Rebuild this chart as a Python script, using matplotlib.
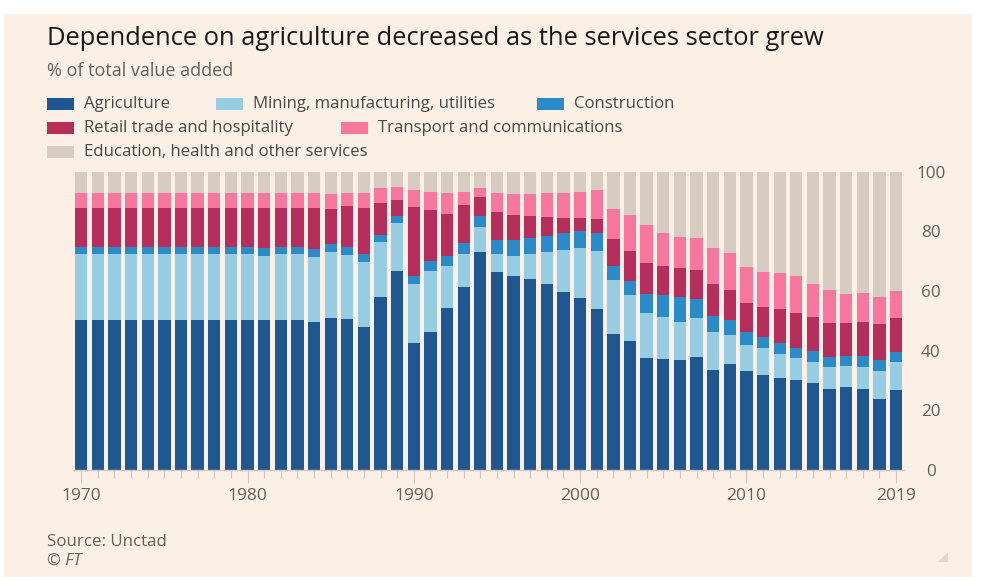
import numpy as np
import matplotlib
matplotlib.use("Agg")
import matplotlib.pyplot as plt
from matplotlib.patches import Rectangle, Polygon

# values (% of total value added)
years = list(range(1970, 2020))

agriculture = [50.3] * 11 + [50.2, 50.3, 50.3, 49.7, 50.8, 50.5, 48.0, 58.1, 66.7,
               42.5, 46.4, 54.2, 61.5, 73.0, 66.5, 65.0, 63.9, 62.2, 59.8,
               57.5, 54.0, 45.6, 43.2, 37.5, 37.2, 36.9, 38.0, 33.5, 35.5,
               33.2, 31.8, 30.7, 30.2, 29.3, 27.3, 27.7, 27.0, 23.7, 26.8]
mining = [22.0] * 11 + [21.7, 22.0, 22.0, 21.8, 22.3, 21.7, 21.8, 18.4, 16.0,
          19.7, 20.4, 14.1, 10.8, 8.3, 5.8, 6.8, 8.5, 10.8, 13.9,
          16.8, 19.4, 18.0, 15.5, 15.2, 14.0, 12.8, 12.8, 12.6, 9.8,
          8.7, 9.0, 8.3, 7.5, 6.9, 7.1, 7.2, 7.6, 9.6, 9.5]
construction = [2.5] * 11 + [2.6, 2.5, 2.5, 2.5, 2.7, 2.4, 2.6, 2.4, 2.5,
                2.8, 3.1, 3.6, 3.8, 3.7, 4.8, 5.3, 5.4, 5.4, 5.9,
                5.8, 6.2, 4.8, 4.8, 6.3, 7.5, 8.2, 6.4, 5.6, 5.0,
                4.2, 3.9, 3.6, 3.3, 3.7, 3.6, 3.4, 3.7, 3.6, 3.4]
retail = [13.1] * 11 + [13.4, 13.1, 13.1, 13.9, 11.8, 13.9, 15.3, 10.5, 5.2,
          23.1, 17.1, 13.8, 12.9, 6.6, 9.5, 8.5, 7.4, 6.5, 5.0,
          4.4, 4.5, 8.9, 10.0, 10.3, 9.8, 9.9, 9.8, 10.6, 10.0,
          10.0, 10.0, 11.3, 11.5, 11.5, 11.4, 10.9, 11.4, 11.9, 11.4]
transport = [4.8] * 11 + [4.8, 4.8, 4.8, 4.8, 5.0, 4.3, 5.1, 5.0, 4.6,
             5.8, 6.3, 7.1, 4.3, 2.9, 6.1, 7.0, 7.4, 7.8, 8.1,
             8.7, 9.6, 10.1, 12.0, 12.8, 10.8, 10.2, 10.7, 12.0, 12.3,
             12.1, 11.6, 12.0, 12.5, 10.9, 10.9, 9.8, 9.5, 9.3, 8.9]
other = [7.3] * 11 + [7.3, 7.3, 7.3, 7.3, 7.4, 7.2, 7.2, 5.6, 5.0,
         6.1, 6.7, 7.2, 6.7, 5.5, 7.3, 7.4, 7.4, 7.3, 7.3,
         6.8, 6.3, 12.6, 14.5, 17.9, 20.7, 22.0, 22.3, 25.7, 27.4,
         31.8, 33.7, 34.1, 35.0, 37.7, 39.7, 41.0, 40.8, 41.9, 40.0]

series_names = ["Agriculture", "Mining, manufacturing, utilities", "Construction",
                "Retail trade and hospitality", "Transport and communications",
                "Education, health and other services"]
colors = ["#1f5791", "#96cde3", "#2a8bc8", "#b52e5c", "#f7779e", "#d8cbc2"]

xtick_years = [1970, 1980, 1990, 2000, 2010, 2019]
yticks = [0, 20, 40, 60, 80, 100]

BG = "#fcf0e6"
W, H = 984, 580
plt.rcParams["font.family"] = ["Open Sans", "DejaVu Sans"]


def fx(px):
    return px / W


def fy(py):
    return 1 - py / H


fig = plt.figure(figsize=(9.84, 5.8), dpi=100, facecolor="white")
fig.patches.append(Rectangle((fx(4), fy(577)), fx(972 - 4), (577 - 14) / H,
                             transform=fig.transFigure, facecolor=BG,
                             edgecolor="none", zorder=-10))

ax = fig.add_axes([fx(72.9), fy(470), fx(904.4 - 72.9), (470 - 171.7) / H])
ax.set_facecolor(BG)

data = [agriculture, mining, construction, retail, transport, other]
bottom = np.zeros(len(years))
for vals, col, name in zip(data, colors, series_names):
    vals = np.array(vals)
    ax.bar(years, vals, bottom=bottom, width=0.74, color=col, label=name,
           linewidth=0)
    bottom += vals

ax.set_xlim(1969.5, 2019.5)
ax.set_ylim(0, 100)

for s in ["top", "left", "right"]:
    ax.spines[s].set_visible(False)
ax.spines["bottom"].set_color("#d3c8be")
ax.spines["bottom"].set_linewidth(1.0)

ax.set_xticks(xtick_years)
ax.set_xticklabels([str(y) for y in xtick_years])
ax.set_xticks(years, minor=True)
ax.tick_params(axis="x", which="major", length=9, width=0.8, color="#d3c8be",
               labelsize=12.5, labelcolor="#66605c", pad=4)
ax.tick_params(axis="x", which="minor", length=5.5, width=0.8, color="#d3c8be")

ax.yaxis.tick_right()
ax.set_yticks(yticks)
ax.tick_params(axis="y", length=0, labelsize=12.3, labelcolor="#66605c", pad=19)
for lab in ax.get_yticklabels():
    lab.set_horizontalalignment("center")

# title, subtitle
fig.text(fx(47), fy(45), "Dependence on agriculture decreased as the services sector grew",
         fontsize=18.4, color="#1a1817", va="baseline", ha="left")
fig.text(fx(47), fy(76), "% of total value added", fontsize=13,
         color="#66605c", va="baseline", ha="left")

# legend drawn by hand to match the layout
legend_pos = [(47, 104), (216, 104), (537, 104), (47, 128), (341, 128), (47, 152)]
for (lx, ly), col, name in zip(legend_pos, colors, series_names):
    fig.patches.append(Rectangle((fx(lx), fy(ly + 6)), fx(27), 12 / H,
                                 transform=fig.transFigure, facecolor=col,
                                 edgecolor="none"))
    fig.text(fx(lx + 37), fy(ly), name, fontsize=12.1, color="#4d4845",
             va="center", ha="left")

# footer
fig.text(fx(47), fy(546), "Source: Unctad", fontsize=12.2, color="#66605c",
         va="baseline", ha="left")
fig.text(fx(47), fy(565), "© FT", fontsize=12, color="#66605c",
         va="baseline", ha="left", style="italic")
fig.patches.append(Polygon([(fx(938), fy(562)), (fx(948), fy(562)), (fx(948), fy(552))],
                           closed=True, transform=fig.transFigure,
                           facecolor="#e0d6cd", edgecolor="none"))

fig.savefig("out.png", dpi=100, facecolor=fig.get_facecolor())
